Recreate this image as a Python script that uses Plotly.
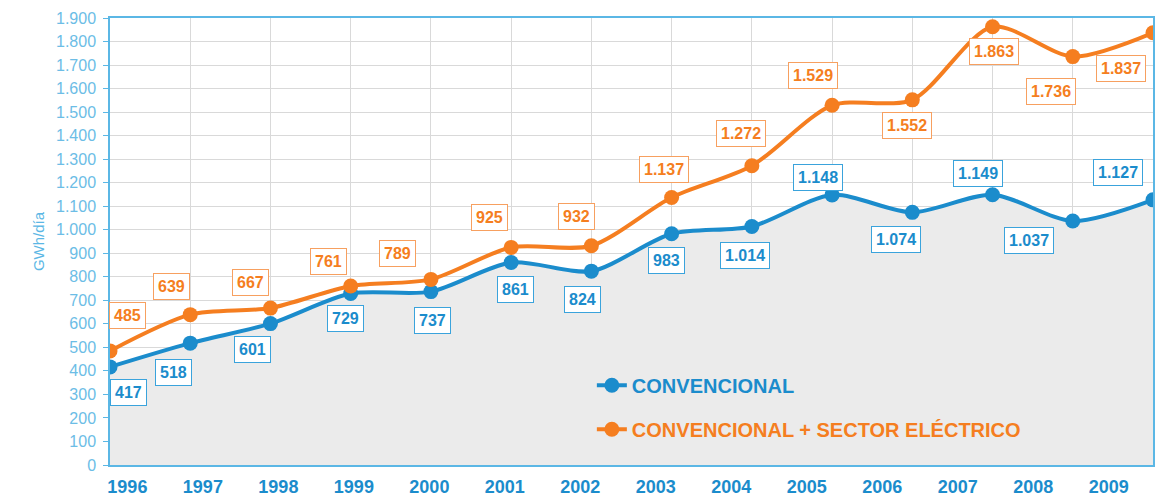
import plotly.graph_objects as go

# Daily gas demand in Spain (GWh/día)
years = [1996, 1997, 1998, 1999, 2000, 2001, 2002, 2003, 2004, 2005, 2006, 2007, 2008, 2009]
convencional = [417, 518, 601, 729, 737, 861, 824, 983, 1014, 1148, 1074, 1149, 1037, 1127]
conv_electrico = [485, 639, 667, 761, 789, 925, 932, 1137, 1272, 1529, 1552, 1863, 1736, 1837]
y_ticks = list(range(0, 2000, 100))

name_conv = "CONVENCIONAL"
name_total = "CONVENCIONAL + SECTOR ELÉCTRICO"

BLUE = "#1b8ccc"
ORANGE = "#f57e20"
AXIS = "#5bb7e5"
GRID = "#d9d9d9"
FILL = "#ebebeb"
FONT = "Liberation Sans, Arial, sans-serif"

# label offsets in pixels (dx, dy) from each point
off_conv = [(18, -26), (-17, -29), (-18, -26), (-5, -25), (2, -29), (4, -27), (-9, -28),
            (-5, -27), (-7, -29), (-14, 17), (-16, -27), (-15, 21), (-44, -19), (-35, 27)]
off_total = [(17, 35), (-19, 28), (-20, 26), (-22, 24), (-33, 26), (-22, 30), (-15, 29),
             (-8, 28), (-11, 32), (-19, 30), (-5, -26), (1, -25), (-22, -35), (-32, -36)]


def fmt(v):
    return f"{v:,}".replace(",", ".")


fig = go.Figure()

fig.add_trace(go.Scatter(
    x=years, y=convencional, mode="lines+markers",
    name=f"<span style='color:{BLUE}'>{name_conv}</span>",
    line=dict(color=BLUE, width=4, shape="spline", smoothing=0.8),
    marker=dict(color=BLUE, size=15),
    fill="tozeroy", fillcolor=FILL,
    legendgroup="a",
))
fig.add_trace(go.Scatter(
    x=years, y=conv_electrico, mode="lines+markers",
    name=f"<span style='color:{ORANGE}'>{name_total}</span>",
    line=dict(color=ORANGE, width=4, shape="spline", smoothing=0.8),
    marker=dict(color=ORANGE, size=15),
    legendgroup="b",
))
# carrier for the year label axis
fig.add_trace(go.Scatter(
    x=years, y=[None] * len(years), xaxis="x2", showlegend=False,
    hoverinfo="skip", mode="markers",
))

annotations = []
for yr, v, (dx, dy) in zip(years, convencional, off_conv):
    annotations.append(dict(
        x=yr, y=v, xref="x", yref="y", text=fmt(v), showarrow=False,
        xshift=dx, yshift=dy,
        font=dict(family=FONT, size=16, color=BLUE, weight="bold"),
        bgcolor="white", bordercolor="#3aa3dc", borderwidth=1, borderpad=4,
    ))
for yr, v, (dx, dy) in zip(years, conv_electrico, off_total):
    annotations.append(dict(
        x=yr, y=v, xref="x", yref="y", text=fmt(v), showarrow=False,
        xshift=dx, yshift=dy,
        font=dict(family=FONT, size=16, color=ORANGE, weight="bold"),
        bgcolor="white", bordercolor="#f7a060", borderwidth=1, borderpad=4,
    ))

fig.update_layout(
    width=1165, height=497,
    margin=dict(l=110, r=12, t=18, b=32),
    paper_bgcolor="white", plot_bgcolor="white",
    separators=",.",
    font=dict(family=FONT),
    annotations=annotations,
    showlegend=True,
    legend=dict(
        x=0.462, y=0.222, xanchor="left", yanchor="top",
        bgcolor="rgba(0,0,0,0)",
        font=dict(family=FONT, size=20, weight="bold"),
        traceorder="grouped", tracegroupgap=15,
        itemsizing="trace",
    ),
    xaxis=dict(
        range=[1996, 2009], tickvals=years, showticklabels=False,
        showgrid=True, gridcolor=GRID, gridwidth=1,
        showline=True, linecolor=AXIS, linewidth=1.5, mirror=True,
        zeroline=False, ticks="", automargin=False,
    ),
    xaxis2=dict(
        overlaying="x", anchor="y", side="bottom",
        range=[1995.770, 2009.585], tickvals=years,
        ticktext=[str(y) for y in years],
        showgrid=False, showline=False, zeroline=False, ticks="",
        ticklabelstandoff=9, automargin=False,
        tickfont=dict(family=FONT, size=18, color=BLUE, weight="bold"),
    ),
    yaxis=dict(
        range=[0, 1900], tickvals=y_ticks, tickformat=",d",
        showgrid=True, gridcolor=GRID, gridwidth=1,
        showline=True, linecolor=AXIS, linewidth=1.5, mirror=True,
        zeroline=False, ticks="outside", ticklen=5, tickcolor=AXIS,
        ticklabelstandoff=4, automargin=False,
        tickfont=dict(family=FONT, size=16, color="#6cbde6"),
        title=dict(text="GWh/día", standoff=8,
                   font=dict(family=FONT, size=15, color="#5bb7e5")),
    ),
)

fig.write_html("out.html")
